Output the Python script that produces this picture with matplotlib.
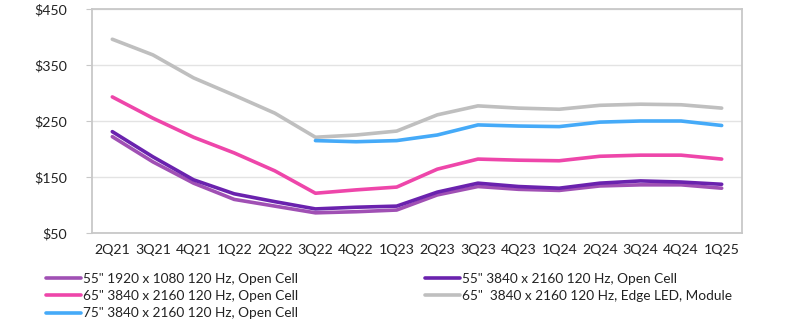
import matplotlib
matplotlib.use("Agg")
import matplotlib.pyplot as plt
import numpy as np

plt.rcParams['font.family'] = ['Lato', 'DejaVu Sans']

quarters = ["2Q21", "3Q21", "4Q21", "1Q22", "2Q22", "3Q22", "4Q22", "1Q23",
            "2Q23", "3Q23", "4Q23", "1Q24", "2Q24", "3Q24", "4Q24", "1Q25"]

s55_fhd = [222, 177, 139, 110, 98, 86, 88, 91, 118, 133, 128, 126, 134, 136, 136, 130]
s55_uhd = [231, 186, 145, 120, 106, 93, 96, 98, 123, 139, 133, 130, 139, 143, 141, 137]
s65_uhd = [293, 255, 221, 193, 161, 121, 127, 132, 164, 182, 180, 179, 187, 189, 189, 182]
s65_edge = [396, 368, 327, 296, 264, 221, 225, 232, 261, 277, 273, 271, 278, 280, 279, 273]
s75_uhd = [None, None, None, None, None, 215, 213, 215, 225, 243, 241, 240, 248, 250, 250, 242]

labels = ['55" 1920 x 1080 120 Hz, Open Cell',
          '55" 3840 x 2160 120 Hz, Open Cell',
          '65" 3840 x 2160 120 Hz, Open Cell',
          '65"  3840 x 2160 120 Hz, Edge LED, Module',
          '75" 3840 x 2160 120 Hz, Open Cell']
colors = ['#A050B4', '#6A22AE', '#EE46AA', '#BFBFBF', '#45AAF8']
series = [s55_fhd, s55_uhd, s65_uhd, s65_edge, s75_uhd]

fig = plt.figure(figsize=(7.95, 3.31), dpi=100)
ax = fig.add_axes([92/795, 1-233/331, (742-92)/795, (233-9)/331])

x = np.arange(len(quarters))
handles = []
for s, c, lab in zip(series, colors, labels):
    y = np.array([np.nan if v is None else v for v in s], dtype=float)
    h, = ax.plot(x, y, color=c, lw=2.6, label=lab, solid_capstyle='round', solid_joinstyle='round')
    handles.append(h)

ax.set_xlim(-0.5, len(quarters)-0.5)
ax.set_ylim(50, 450)
ax.set_yticks([50, 150, 250, 350, 450])
ax.set_yticklabels(["$50", "$150", "$250", "$350", "$450"])
ax.set_xticks(x)
ax.set_xticklabels(quarters)
ax.grid(axis='y', color='#E3E3E3', lw=1)
ax.set_axisbelow(True)
for sp in ax.spines.values():
    sp.set_color('#C8C8C8')
    sp.set_linewidth(1.3)
ax.tick_params(axis='y', length=4, color='#C8C8C8', pad=14, labelsize=10.2, labelcolor='#222222')
ax.tick_params(axis='x', length=0, pad=8, labelsize=10.2, labelcolor='#222222')

leg_kw = dict(loc='upper left', frameon=False, fontsize=9.8, handlelength=2.57,
              handletextpad=0.12, labelspacing=0.38, borderpad=0, borderaxespad=0)
l1 = fig.legend([handles[0], handles[2], handles[4]], [labels[0], labels[2], labels[4]],
                bbox_to_anchor=(46/795, 1-273/331), **leg_kw)
l2 = fig.legend([handles[1], handles[3]], [labels[1], labels[3]],
                bbox_to_anchor=(425/795, 1-273/331), **leg_kw)
for l in (l1, l2):
    for t in l.get_texts():
        t.set_color('#222222')

fig.savefig("out.png", dpi=100)
